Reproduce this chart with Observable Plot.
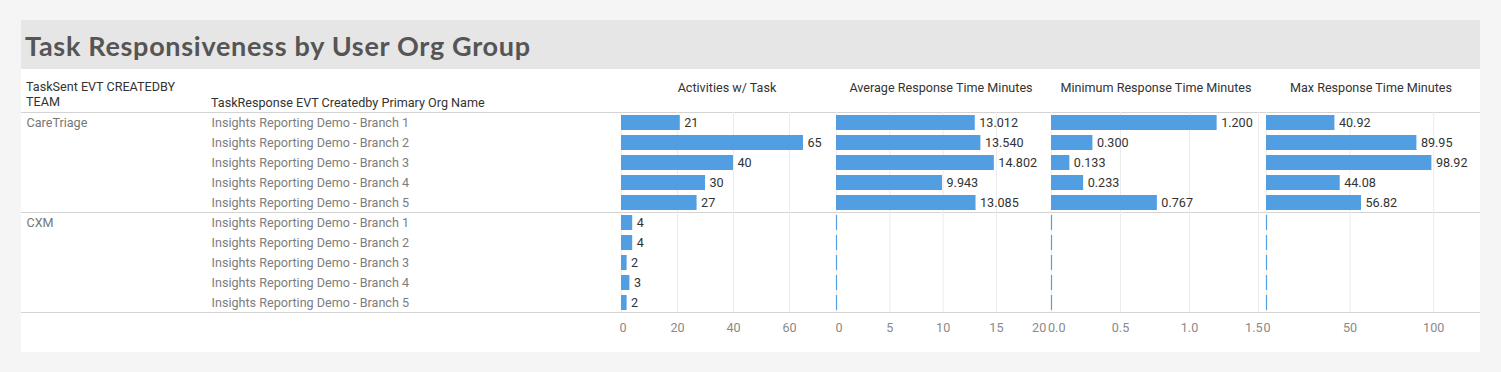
<!DOCTYPE html>
<html>
<head>
<meta charset="utf-8">
<script src="https://cdn.jsdelivr.net/npm/d3@7"></script>
<script src="https://cdn.jsdelivr.net/npm/@observablehq/plot@0.6"></script>
<style>
  html, body { margin: 0; padding: 0; }
  body { background: #f5f5f5; width: 1501px; height: 372px; position: relative; overflow: hidden; font-family: Roboto, "Liberation Sans", sans-serif; }
  .abs { position: absolute; }
  #card { left: 21px; top: 20px; width: 1459px; height: 332px; background: #fff; }
  #titleband { left: 21px; top: 20px; width: 1459px; height: 49px; background: #e6e6e6; }
  #title { left: 25px; top: 29px; line-height: 32px; font: bold 27px Lato, "Liberation Sans", sans-serif; letter-spacing: 0.7px; color: #555; white-space: nowrap; }
  .hdr { font-size: 12.6px; line-height: 16px; color: #333; white-space: nowrap; }
  .colhdr { width: 300px; text-align: center; }
  .sep { height: 1px; background: #d3d3d3; left: 21px; width: 1459px; }
  svg { overflow: visible; }
</style>
</head>
<body>
<div id="card" class="abs"></div>
<div id="titleband" class="abs"></div>
<div id="title" class="abs"></div>
<div id="root"></div>
<script>
// ---------------- data ----------------
const chartTitle = "Task Responsiveness by User Org Group";
const teamHeader = ["TaskSent EVT CREATEDBY", "TEAM"];
const branchHeader = "TaskResponse EVT Createdby Primary Org Name";
const teams = ["CareTriage", "CXM"];
const branches = [
  "Insights Reporting Demo - Branch 1",
  "Insights Reporting Demo - Branch 2",
  "Insights Reporting Demo - Branch 3",
  "Insights Reporting Demo - Branch 4",
  "Insights Reporting Demo - Branch 5"
];
const measures = [
  "Activities w/ Task",
  "Average Response Time Minutes",
  "Minimum Response Time Minutes",
  "Max Response Time Minutes"
];
// values per row: CareTriage branches 1-5, then CXM branches 1-5
const activities  = [21, 65, 40, 30, 27, 4, 4, 2, 3, 2];
const avgResponse = [13.012, 13.540, 14.802, 9.943, 13.085, 0, 0, 0, 0, 0];
const minResponse = [1.200, 0.300, 0.133, 0.233, 0.767, 0, 0, 0, 0, 0];
const maxResponse = [40.92, 89.95, 98.92, 44.08, 56.82, 0, 0, 0, 0, 0];
const tickValues = [
  [0, 20, 40, 60],
  [0, 5, 10, 15, 20],
  [0, 0.5, 1.0, 1.5],
  [0, 50, 100]
];

// ---------------- layout ----------------
const BLUE = "#529ee3";
const FONT = 'Roboto, "Liberation Sans", sans-serif';
const FS = 12.6;
const ROWS_TOP = 112, ROWS_H = 200;
const rows = teams.flatMap((t, i) => branches.map((b, j) => ({team: t, branch: b, key: t + "|" + b, first: j === 0, idx: i * 5 + j})));
const yScale = {type: "band", domain: rows.map(r => r.key), range: [0, ROWS_H], paddingInner: 0.25, paddingOuter: 0.125, axis: null};

const root = document.getElementById("root");
document.getElementById("title").textContent = chartTitle;

function addDiv(cls, text, left, top, extra) {
  const d = document.createElement("div");
  d.className = "abs " + cls;
  d.textContent = text;
  d.style.left = left + "px";
  d.style.top = top + "px";
  if (extra) Object.assign(d.style, extra);
  root.appendChild(d);
  return d;
}

// headers
addDiv("hdr", teamHeader[0], 26, 79);
addDiv("hdr", teamHeader[1], 26, 94);
addDiv("hdr", branchHeader, 211, 95);

// separators
[112, 212, 312].forEach(y => addDiv("sep", "", 21, y));

// row labels
const labels = Plot.plot({
  width: 600, height: ROWS_H, margin: 0,
  y: yScale,
  style: {background: "transparent", fontFamily: FONT, fontSize: FS + "px", overflow: "visible"},
  marks: [
    Plot.text(rows.filter(r => r.first), {y: "key", text: "team", frameAnchor: "left", dx: 26, fill: "#777", fontSize: FS}),
    Plot.text(rows, {y: "key", text: "branch", frameAnchor: "left", dx: 211, fill: "#7d7d7d", fontSize: FS})
  ]
});
labels.style.position = "absolute";
labels.style.left = "0px";
labels.style.top = ROWS_TOP + "px";
root.appendChild(labels);

// panels
const panels = [
  {values: activities,  ticks: tickValues[0], zero: 621,    range: 208, max: 74.3,  fmt: d3.format("d"),   tfmt: d3.format("d"),   dx0: -2,   endTick: null, endDx: 0,   center: 727},
  {values: avgResponse, ticks: tickValues[1], zero: 836,    range: 209, max: 19.6,  fmt: d3.format(".3f"), tfmt: d3.format("d"),   dx0: -1,   endTick: 20,   endDx: -3.5, center: 941},
  {values: minResponse, ticks: tickValues[2], zero: 1050.5, range: 208, max: 1.507, fmt: d3.format(".3f"), tfmt: d3.format(".1f"), dx0: -3.5, endTick: 1.5,  endDx: 4,   center: 1156},
  {values: maxResponse, ticks: tickValues[3], zero: 1265.5, range: 208, max: 124.4, fmt: d3.format(".2f"), tfmt: d3.format("d"),   dx0: -3,   endTick: null, endDx: 0,   center: 1371}
];

panels.forEach((p, k) => {
  addDiv("hdr colhdr", measures[k], p.center - 150, 80);
  const data = rows.map((r, i) => ({...r, v: p.values[i]}));
  const pos = data.filter(d => d.v > 0);
  const nil = data.filter(d => !(d.v > 0));
  const gridTicks = p.ticks.filter(t => t <= p.max);
  const labelTicks = p.ticks.filter(t => t !== p.endTick);
  const ML = 20, MR = 40;
  const axisOpts = {tickSize: 0, tickPadding: 11, fontSize: FS, color: "#8a8a8a", tickFormat: p.tfmt, label: null};
  const marks = [
    Plot.ruleX(gridTicks, {stroke: "#ececec"}),
    Plot.barX(pos, {x: "v", y: "key", fill: BLUE}),
    Plot.tickX(nil, {x: () => 0, y: "key", stroke: BLUE, strokeWidth: 1.2}),
    Plot.text(pos, {x: "v", y: "key", text: d => p.fmt(d.v), dx: 4, textAnchor: "start", fill: "#333", fontSize: FS}),
    Plot.axisX({...axisOpts, ticks: [labelTicks[0]], textAnchor: "start", dx: p.dx0}),
    Plot.axisX({...axisOpts, ticks: labelTicks.slice(1)})
  ];
  if (p.endTick != null) marks.push(Plot.axisX({...axisOpts, ticks: [p.endTick], textAnchor: "end", dx: p.endDx}));
  const chart = Plot.plot({
    width: ML + p.range + MR, height: ROWS_H + 40,
    marginLeft: ML, marginRight: MR, marginTop: 0, marginBottom: 40,
    x: {domain: [0, p.max], range: [ML, ML + p.range], axis: null, label: null},
    y: yScale,
    style: {background: "transparent", fontFamily: FONT, fontSize: FS + "px", overflow: "visible"},
    marks
  });
  chart.style.position = "absolute";
  chart.style.left = (p.zero - ML) + "px";
  chart.style.top = ROWS_TOP + "px";
  root.appendChild(chart);
});
</script>
</body>
</html>
